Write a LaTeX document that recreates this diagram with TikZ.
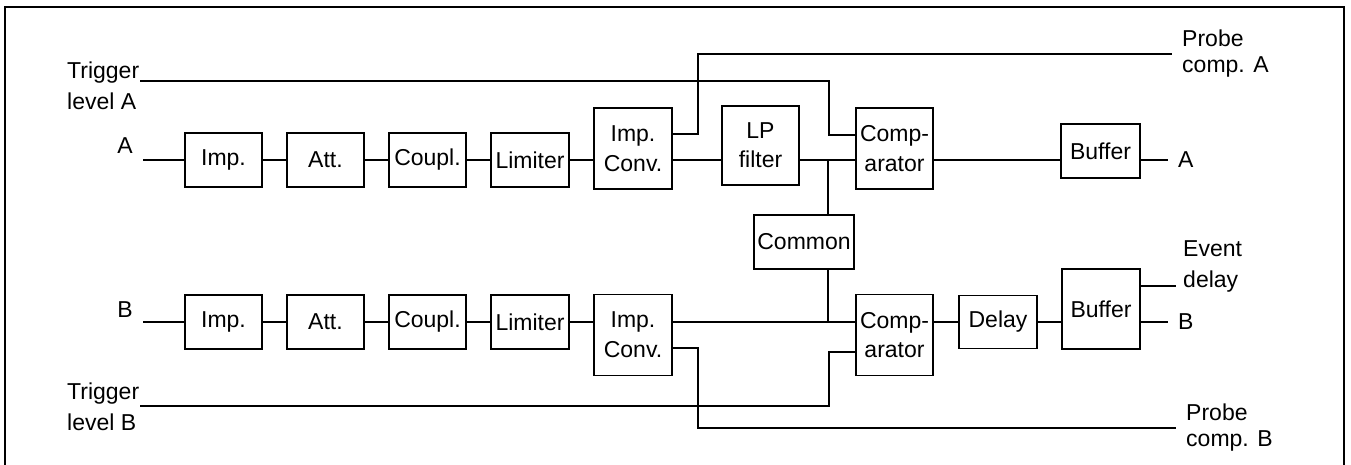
\documentclass[tikz,border=0pt]{standalone}
\usepackage{fontspec}
\setmainfont{Liberation Sans}
\usetikzlibrary{calc, positioning}

\tikzset{
  khoi/.style={draw, line width=1.8pt, inner sep=0pt, minimum width=77pt,
    minimum height=54pt, align=center, font=\fontsize{23}{30}\selectfont},
  nhan/.style={inner sep=3pt, align=left, font=\fontsize{23}{30}\selectfont},
  nhanra/.style={nhan, anchor=west, inner xsep=10pt},
  day/.style={line width=1.4pt},
}

\begin{document}
\begin{tikzpicture}[x=1pt, y=-1pt]
    \useasboundingbox (0,0) rectangle (1351,465);
    % Vẽ khung
    \draw[line width=2.2pt] (5,470) -- (5,7) -- (1344,7) -- (1344,470);

    % Kênh A
    \node[khoi] (impA) at (223.5,160) {Imp.};
    \node[khoi] (attA) at (325.5,160) {Att.};
    \node[khoi] (coupA) at (427.5,160) {Coupl.};
    \node[khoi, minimum width=78pt] (limA) at (530,160) {Limiter};
    \node[khoi, minimum width=78pt, minimum height=81pt] (icA) at (633,148.5) {Imp.\\Conv.};
    \node[khoi, minimum height=79pt, font=\fontsize{23}{29}\selectfont]
      (lpA) at (760.5,145.5) {LP\\filter};
    \node[khoi, minimum height=81pt] (cmpA) at (894.5,148.5) {Comp-\\arator};
    \node[khoi, minimum width=79pt] (bufA) at (1100.5,151) {Buffer};

    % Khối chung
    \node[khoi, minimum width=100pt] (com) at (804,242) {Common};

    % Kênh B
    \node[khoi] (impB) at (223.5,322) {Imp.};
    \node[khoi] (attB) at (325.5,322) {Att.};
    \node[khoi] (coupB) at (427.5,322) {Coupl.};
    \node[khoi, minimum width=78pt] (limB) at (530,322) {Limiter};
    \node[khoi, minimum width=78pt, minimum height=81pt] (icB) at (633,335) {Imp.\\Conv.};
    \node[khoi, minimum height=81pt, font=\fontsize{23}{29}\selectfont]
      (cmpB) at (894.5,335) {Comp-\\arator};
    \node[khoi, minimum width=78pt, minimum height=53pt] (dlyB) at (998,322) {Delay};
    \node[khoi, minimum width=78pt, minimum height=80pt] (bufB) at (1101,309) {Buffer};

    % Nhãn
    \node[nhan] (lblA) at (125,146) {A};
    \node[nhan] (lblB) at (125,310) {B};
    \node[nhan, anchor=west, font=\fontsize{23}{31}\selectfont]
      (tgA) at (64,86) {Trigger\\level A};
    \node[nhan, anchor=west, font=\fontsize{23}{31}\selectfont]
      (tgB) at (64,407) {Trigger\\level B};
    \node[nhanra, font=\fontsize{23}{26}\selectfont] (prA) at (1172,54) {Probe\\comp. A};
    \node[nhanra, font=\fontsize{23}{26}\selectfont] (prB) at (1176,428) {Probe\\comp. B};
    \node[nhanra] (outA) at (1168,160) {A};
    \node[nhanra] (outB) at (1168,322) {B};
    \node[nhanra, inner xsep=8pt, font=\fontsize{23}{31}\selectfont]
      (evB) at (1175,266) {Event\\delay};

    \coordinate (inA) at (143,160);
    \coordinate (inB) at (143,322);
    \coordinate (tA) at (140,81);
    \coordinate (tB) at (140,406);
    \coordinate (jA) at (828,160);

    % Đường tín hiệu A
    \draw[day] (inA) -- (impA) -- (attA) -- (coupA) -- (limA);
    \draw[day] (limA) -- (icA.west |- limA);
    \draw[day] (icA.east |- limA) -- (lpA.west |- limA);
    \draw[day] (lpA.east |- limA) -- (cmpA.west |- limA);
    \draw[day] (cmpA.east |- limA) -- (bufA.west |- limA);
    \draw[day] (bufA.east |- limA) -- (outA.west);
    \draw[day] (icA.east |- 0,134) -- ++(25,0) |- (prA.west);
    \draw[day] (tA) -| ($(cmpA.west |- 0,135)+(-26,0)$) -- (cmpA.west |- 0,135);

    % Đường tín hiệu B
    \draw[day] (inB) -- (impB) -- (attB) -- (coupB) -- (limB);
    \draw[day] (limB) -- (icB.west |- limB);
    \draw[day] (icB.east |- limB) -- (cmpB.west |- limB);
    \draw[day] (cmpB.east |- limB) -- (dlyB);
    \draw[day] (dlyB) -- (bufB.west |- dlyB);
    \draw[day] (bufB.east |- limB) -- (outB.west);
    \draw[day] (bufB.east |- 0,286) -- ++(35,0);
    \draw[day] (icB.east |- 0,348) -- ++(25,0) |- (prB.west);
    \draw[day] (tB) -| ($(cmpB.west |- 0,352)+(-26,0)$) -- (cmpB.west |- 0,352);

    % Nối khối chung
    \draw[day] (jA) -- (jA |- com.north);
    \draw[day] (com.south -| jA) -- (jA |- limB);
\end{tikzpicture}
\end{document}
